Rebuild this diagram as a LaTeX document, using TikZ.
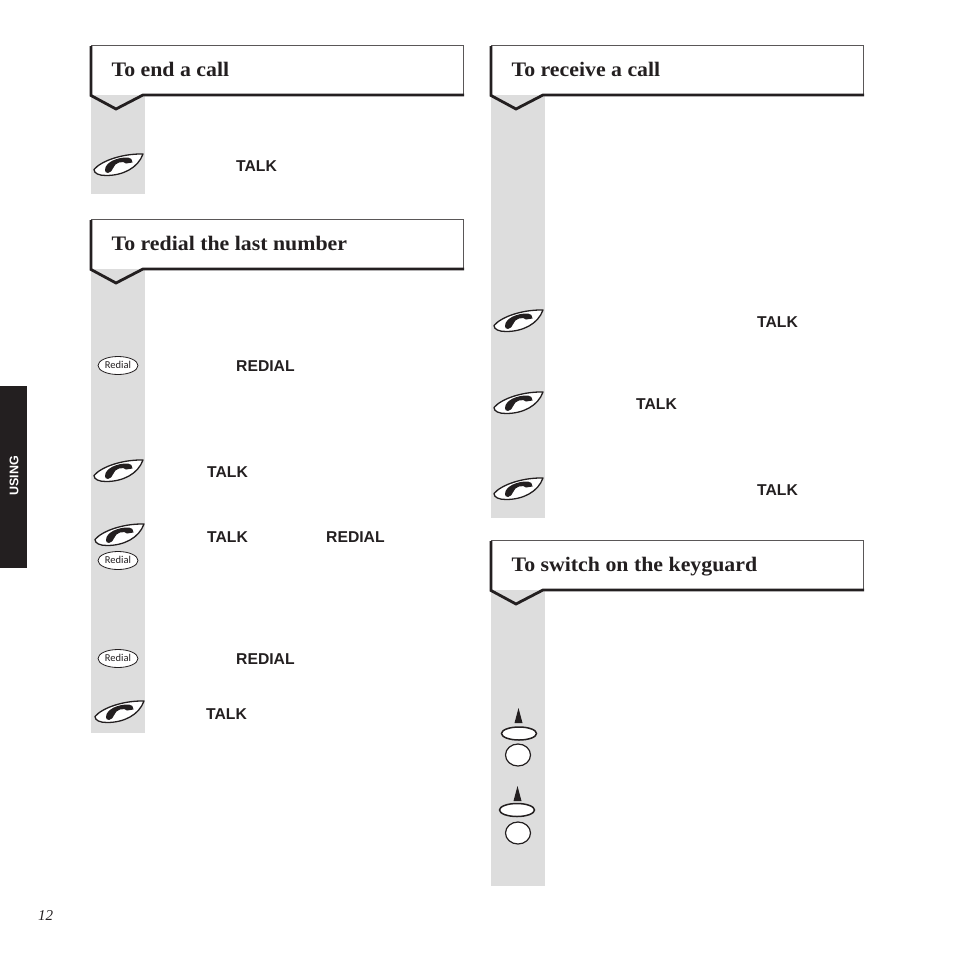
\documentclass[tikz,border=0pt]{standalone}
\usepackage{fontspec}
\setmainfont{Liberation Serif}
\setsansfont{Liberation Sans}
\newfontfamily\headfont[FakeStretch=1.06]{Liberation Serif}
\newfontfamily\keyfont{Carlito}
\definecolor{col}{RGB}{221,221,221}
\definecolor{ink}{RGB}{35,31,32}
\tikzset{
  x=1pt,y=-1pt,
  headtext/.style={font=\headfont\bfseries\fontsize{20.6}{22}\selectfont,text=ink,anchor=base west,inner sep=0},
  keyword/.style={font=\sffamily\bfseries\fontsize{15.7}{17}\selectfont,text=ink,anchor=base west,inner sep=0},
  redialkey/.pic={
    \draw[ink,line width=.8,fill=white] (0,0.5) ellipse [x radius=20,y radius=9];
    \node[font=\keyfont\fontsize{10.5}{11}\selectfont,text=ink,inner sep=0] (-lbl) at (0,0.3) {Redial};
  },
  phonekey/.pic={
    \draw[ink,line width=1.3,fill=white,line join=round]
      (-24,4.5) .. controls (-17,-4) and (4,-11.5) .. (25,-11)
      .. controls (20,3) and (5,10.5) .. (-12,10.5)
      .. controls (-19,10.5) and (-24,8.5) .. (-24,4.5) -- cycle;
    \fill[ink] (-13,5) .. controls (-13,-3) and (0,-8) .. (10,-7.5)
      .. controls (13,-7.3) and (14.5,-5.5) .. (14.5,-2.5)
      -- (8,-1.5) .. controls (7,-3) and (4,-3.5) .. (1,-2.5)
      .. controls (-2,-1.5) and (-3.5,0) .. (-4.5,2.5)
      .. controls (-5.5,5.5) and (-8,8) .. (-10,8)
      .. controls (-12,8) and (-13.2,6.8) .. (-13,5) -- cycle;
  },
  keyarrow/.pic={\fill[ink] (0,0) -- (-4,15) -- (4,15) -- cycle;},
  keybar/.style={draw=ink,line width=1.5,fill=white},
  keydot/.style={draw=ink,line width=1.2,fill=white},
}
\newcommand{\headbox}[4]{%
  \fill[white] (#1,#2) rectangle (#1+372,#2+50);
  \draw[ink!75,line width=.9] (#1,#2+50) -- (#1,#2) -- (#1+372,#2) -- (#1+372,#2+50);
  \draw[ink,line width=2.8,line join=miter,line cap=butt]
    (#1,#2+1) -- (#1,#2+50.5) -- (#1+25,#2+64) -- (#1+52,#2+50) -- (#1+373,#2+50);
  \node[headtext] (#3) at (#1+20.5,#2+31) {#4};
}
\begin{document}
\begin{tikzpicture}
\useasboundingbox (0,0) rectangle (954,954);
\fill[white] (0,0) rectangle (954,954);
% side tab
\fill[ink] (0,386) rectangle (27,568);
\node[font=\sffamily\bfseries\fontsize{12.5}{13}\selectfont,text=white,rotate=90,inner sep=0] (tab) at (14,476) {USING};
% grey columns
\fill[col] (91,95) rectangle (145,194);
\fill[col] (91,268) rectangle (145,733);
\fill[col] (491,95) rectangle (545,518);
\fill[col] (491,590) rectangle (545,886);
% headers
\headbox{91}{45}{h1}{To end a call}
\headbox{91}{219}{h2}{To redial the last number}
\headbox{491}{45}{h3}{To receive a call}
\headbox{491}{540}{h4}{To switch on the keyguard}
% keys: left column
\pic at (118,165) {phonekey};
\pic at (118,365) {redialkey};
\pic at (118,471) {phonekey};
\pic at (119,535) {phonekey};
\pic at (118,560) {redialkey};
\pic at (118,658) {redialkey};
\pic at (119,712) {phonekey};
% keys: right column
\pic at (518,321) {phonekey};
\pic at (518,403) {phonekey};
\pic at (518,489) {phonekey};
\pic at (518.5,708) {keyarrow};
\draw[keybar] (519,733.5) ellipse [x radius=17.5,y radius=6.5];
\draw[keydot] (518,755) ellipse [x radius=12.5,y radius=11];
\pic at (517.5,786) {keyarrow};
\draw[keybar] (517,810) ellipse [x radius=17.5,y radius=6.5];
\draw[keydot] (518,833) ellipse [x radius=12.5,y radius=11];
% words
\node[keyword] (t1) at (236,171) {TALK};
\node[keyword] (t2) at (236,371) {REDIAL};
\node[keyword] (t3) at (207,477) {TALK};
\node[keyword] (t4) at (207,542) {TALK};
\node[keyword] (t5) at (326,542) {REDIAL};
\node[keyword] (t6) at (236,664) {REDIAL};
\node[keyword] (t7) at (206,719) {TALK};
\node[keyword] (t8) at (757,327) {TALK};
\node[keyword] (t9) at (636,409) {TALK};
\node[keyword] (t10) at (757,495) {TALK};
% page number
\node[font=\rmfamily\itshape\fontsize{15}{16}\selectfont,text=ink,anchor=base west,inner sep=0] (pg) at (38,920) {12};
\end{tikzpicture}
\end{document}
